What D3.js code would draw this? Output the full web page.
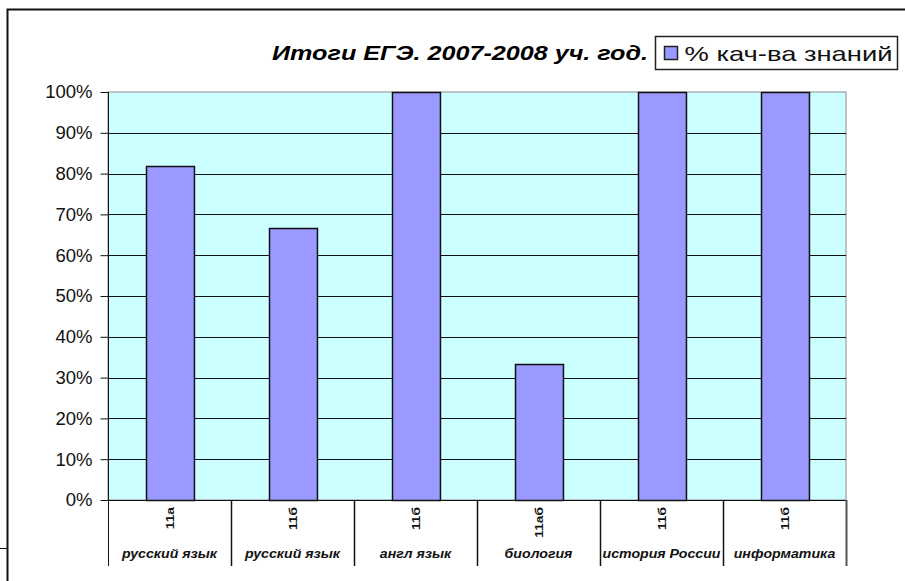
<!DOCTYPE html>
<html>
<head>
<meta charset="utf-8">
<script src="https://cdn.jsdelivr.net/npm/d3@7"></script>
<style>
  body { margin: 0; background: #fff; }
  svg { display: block; font-family: Arial, "Liberation Sans", sans-serif; }
</style>
</head>
<body>
<svg id="chart" width="905" height="581"></svg>
<script>
// data
const classNames = ['11а', '11б', '11б', '11аб', '11б', '11б'];
const subjects = ['русский язык', 'русский язык', 'англ язык', 'биология', 'история России', 'информатика'];
const quality = [81.8, 66.7, 100, 33.3, 100, 100];
const yTicks = [0, 10, 20, 30, 40, 50, 60, 70, 80, 90, 100];
const legendLabel = '% кач-ва знаний';
const titleText = 'Итоги ЕГЭ. 2007-2008 уч. год.';

const svg = d3.select('#chart');
const plot = { left: 108, right: 846, top: 92, bottom: 500 };

const x = d3.scaleBand()
    .domain(d3.range(quality.length))
    .range([plot.left, plot.right])
    .paddingInner(0.61)
    .paddingOuter(0.305);

const groups = d3.scaleBand()
    .domain(d3.range(quality.length))
    .range([plot.left, plot.right]);

const y = d3.scaleLinear()
    .domain([0, 100])
    .range([plot.bottom, plot.top]);

// outer frame (partly visible)
svg.append('path')
    .attr('d', 'M7.5,600 V9.5 H905')
    .attr('fill', 'none')
    .attr('stroke', '#111')
    .attr('stroke-width', 2);
svg.append('line')
    .attr('x1', 0).attr('x2', 7)
    .attr('y1', 548.5).attr('y2', 548.5)
    .attr('stroke', '#111');

// plot background
svg.append('rect')
    .attr('x', plot.left).attr('y', plot.top)
    .attr('width', plot.right - plot.left)
    .attr('height', plot.bottom - plot.top)
    .attr('fill', '#ccffff')
    .attr('stroke', '#8a8a8a');

// gridlines
svg.append('g')
    .selectAll('line')
    .data(yTicks.filter(t => t > 0 && t < 100))
    .join('line')
    .attr('x1', plot.left).attr('x2', plot.right)
    .attr('y1', d => Math.round(y(d)) + 0.5)
    .attr('y2', d => Math.round(y(d)) + 0.5)
    .attr('stroke', '#111');

// bars
svg.append('g')
    .selectAll('rect')
    .data(quality)
    .join('rect')
    .attr('x', (d, i) => Math.round(x(i)) + 0.5)
    .attr('y', d => Math.round(y(d)) + 0.5)
    .attr('width', x.bandwidth())
    .attr('height', d => Math.round(y(0)) - Math.round(y(d)))
    .attr('fill', '#9999ff')
    .attr('stroke', '#111')
    .attr('stroke-width', 1.5);

// y axis
const yAxis = svg.append('g')
    .attr('transform', `translate(${plot.left + 0.5},0)`)
    .call(d3.axisLeft(y).tickValues(yTicks).tickSize(8).tickPadding(8).tickFormat(d => d + '%'));
yAxis.select('.domain').attr('stroke', '#111').attr('d', `M0,${plot.top}V566`);
yAxis.selectAll('.tick line').attr('stroke', '#111');
yAxis.selectAll('.tick text')
    .attr('font-size', 18.5)
    .attr('font-family', 'Arial, "Liberation Sans", sans-serif')
    .attr('fill', '#111');

// x axis baseline
svg.append('line')
    .attr('x1', plot.left).attr('x2', plot.right)
    .attr('y1', plot.bottom + 0.5).attr('y2', plot.bottom + 0.5)
    .attr('stroke', '#111');

// category dividers
svg.append('g')
    .selectAll('line')
    .data(d3.range(1, quality.length + 1))
    .join('line')
    .attr('x1', i => (i < quality.length ? groups(i) : plot.right) + 0.5)
    .attr('x2', i => (i < quality.length ? groups(i) : plot.right) + 0.5)
    .attr('y1', plot.bottom).attr('y2', 566)
    .attr('stroke', i => i === quality.length ? '#555' : '#111')
    .attr('stroke-width', i => i === quality.length ? 2 : 1.5);

// class labels (rotated)
svg.append('g')
    .selectAll('text')
    .data(classNames)
    .join('text')
    .attr('transform', (d, i) => `translate(${groups(i) + groups.bandwidth() / 2 + 4},507) rotate(-90) scale(1.25,1)`)
    .attr('text-anchor', 'end')
    .attr('font-size', 11)
    .attr('font-weight', 'bold')
    .attr('fill', '#111')
    .text(d => d);

// subject labels
svg.append('g')
    .selectAll('text')
    .data(subjects)
    .join('text')
    .attr('transform', (d, i) => `translate(${groups(i) + groups.bandwidth() / 2},558) scale(1.18,1)`)
    .attr('text-anchor', 'middle')
    .attr('font-size', 12)
    .attr('font-weight', 'bold')
    .attr('font-style', 'italic')
    .attr('fill', '#111')
    .text(d => d);

// title
svg.append('text')
    .attr('x', 648).attr('y', 60)
    .attr('text-anchor', 'end')
    .attr('font-size', 21)
    .attr('font-weight', 'bold')
    .attr('font-style', 'italic')
    .attr('fill', '#000')
    .attr('textLength', 376)
    .attr('lengthAdjust', 'spacingAndGlyphs')
    .text(titleText);

// legend
const legend = svg.append('g').attr('transform', 'translate(655.5,36.5)');
legend.append('rect')
    .attr('width', 242).attr('height', 33)
    .attr('fill', '#fff')
    .attr('stroke', '#222')
    .attr('stroke-width', 1.5);
legend.append('rect')
    .attr('x', 9).attr('y', 10)
    .attr('width', 13).attr('height', 13)
    .attr('fill', '#9999ff')
    .attr('stroke', '#222')
    .attr('stroke-width', 1.5);
legend.append('text')
    .attr('x', 29).attr('y', 24)
    .attr('font-size', 21)
    .attr('fill', '#111')
    .attr('textLength', 208)
    .attr('lengthAdjust', 'spacingAndGlyphs')
    .text(legendLabel);
</script>
</body>
</html>
